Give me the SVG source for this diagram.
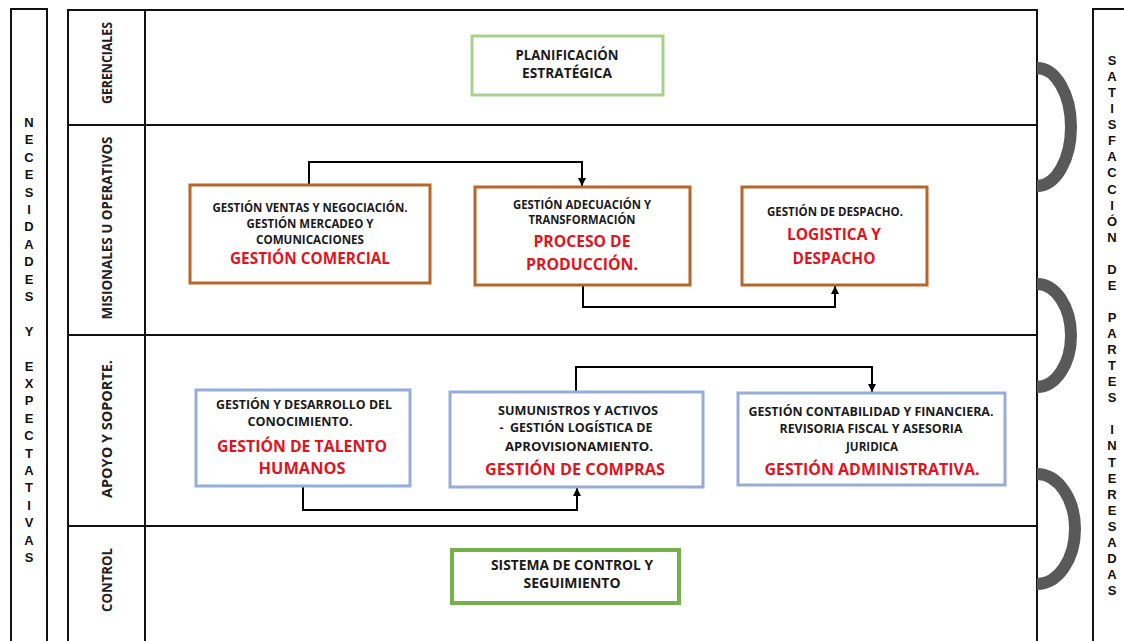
<svg xmlns="http://www.w3.org/2000/svg" width="1124" height="641" viewBox="0 0 1124 641">
<defs>
<marker id="arr" markerWidth="8" markerHeight="8" refX="8" refY="4" orient="auto" markerUnits="userSpaceOnUse">
<path d="M0,0 L8,4 L0,8 z" fill="#000"/>
</marker>
<style>
.frame{fill:none;stroke:#111;stroke-width:2}
.lt{font-family:'Liberation Sans',Arial,sans-serif;font-weight:700;font-size:13px;fill:#111;text-anchor:middle}
.lab{font-family:'Open Sans','Noto Sans',sans-serif;font-weight:700;font-size:14px;fill:#222;text-anchor:middle}
.b{font-family:'Open Sans','Noto Sans',sans-serif;font-weight:700;font-size:12px;fill:#1a1a1a;text-anchor:middle;white-space:pre}
.bl{font-family:'Open Sans','Noto Sans',sans-serif;font-weight:700;font-size:14px;fill:#1a1a1a;text-anchor:middle}
.r{font-family:'Open Sans','Noto Sans',sans-serif;font-weight:700;font-size:16.5px;fill:#E0141E;text-anchor:middle}
.brown{fill:#fff;stroke:#B8652A;stroke-width:3}
.blue{fill:#fff;stroke:#95ADD8;stroke-width:3}
.green1{fill:#fff;stroke:#A9D18E;stroke-width:3}
.green2{fill:#fff;stroke:#74B04C;stroke-width:4}
.conn{fill:none;stroke:#000;stroke-width:2}
.arc{fill:none;stroke:#595959;stroke-width:12}
</style>
</defs>
<rect width="1124" height="641" fill="#fff"/>

<g id="frame">
<rect class="frame" x="11" y="9" width="36" height="645"/>
<rect class="frame" x="68" y="10" width="969" height="645"/>
<line class="frame" x1="145" y1="10" x2="145" y2="641"/>
<line class="frame" x1="68" y1="125" x2="1037" y2="125"/>
<line class="frame" x1="68" y1="335" x2="1037" y2="335"/>
<line class="frame" x1="68" y1="526" x2="1037" y2="526"/>
<rect class="frame" x="1093" y="9" width="50" height="645"/>
</g>

<g id="left-text" class="lt">
<text x="29" y="127">N</text><text x="29" y="144.4">E</text><text x="29" y="161.8">C</text><text x="29" y="179.2">E</text><text x="29" y="196.6">S</text><text x="29" y="214">I</text><text x="29" y="231.4">D</text><text x="29" y="248.8">A</text><text x="29" y="266.2">D</text><text x="29" y="283.6">E</text><text x="29" y="301">S</text>
<text x="29" y="335.8">Y</text>
<text x="29" y="370.6">E</text><text x="29" y="388">X</text><text x="29" y="405.4">P</text><text x="29" y="422.8">E</text><text x="29" y="440.2">C</text><text x="29" y="457.6">T</text><text x="29" y="475">A</text><text x="29" y="492.4">T</text><text x="29" y="509.8">I</text><text x="29" y="527.2">V</text><text x="29" y="544.6">A</text><text x="29" y="562">S</text>
</g>

<g id="right-text" class="lt">
<text x="1112" y="65">S</text><text x="1112" y="81.1">A</text><text x="1112" y="97.1">T</text><text x="1112" y="113.2">I</text><text x="1112" y="129.2">S</text><text x="1112" y="145.3">F</text><text x="1112" y="161.4">A</text><text x="1112" y="177.4">C</text><text x="1112" y="193.5">C</text><text x="1112" y="209.5">I</text><text x="1112" y="225.6">Ó</text><text x="1112" y="241.7">N</text>
<text x="1112" y="273.8">D</text><text x="1112" y="289.8">E</text>
<text x="1112" y="322">P</text><text x="1112" y="338">A</text><text x="1112" y="354.1">R</text><text x="1112" y="370.1">T</text><text x="1112" y="386.2">E</text><text x="1112" y="402.3">S</text>
<text x="1112" y="434.4">I</text><text x="1112" y="450.4">N</text><text x="1112" y="466.5">T</text><text x="1112" y="482.6">E</text><text x="1112" y="498.6">R</text><text x="1112" y="514.7">E</text><text x="1112" y="530.7">S</text><text x="1112" y="546.8">A</text><text x="1112" y="562.9">D</text><text x="1112" y="578.9">A</text><text x="1112" y="595">S</text>
</g>

<g id="row-labels" class="lab">
<text transform="translate(111.5,63) rotate(-90)" textLength="82" lengthAdjust="spacingAndGlyphs">GERENCIALES</text>
<text transform="translate(111.5,228) rotate(-90)" textLength="183" lengthAdjust="spacingAndGlyphs">MISIONALES U OPERATIVOS</text>
<text transform="translate(111.5,429) rotate(-90)" textLength="138" lengthAdjust="spacingAndGlyphs">APOYO Y SOPORTE.</text>
<text transform="translate(111.5,580) rotate(-90)" textLength="64" lengthAdjust="spacingAndGlyphs">CONTROL</text>
</g>

<g id="arcs">
<path class="arc" d="M1037,68 A34,59 0 0 1 1037,186"/>
<path class="arc" d="M1037,284 A34,51.5 0 0 1 1037,387"/>
<path class="arc" d="M1037,474 A38,55 0 0 1 1037,584"/>
</g>

<g id="connectors">
<polyline class="conn" points="309,184 309,162 582,162 582,186" marker-end="url(#arr)"/>
<polyline class="conn" points="583,286 583,307 835,307 835,286" marker-end="url(#arr)"/>
<polyline class="conn" points="303,487 303,510 577,510 577,488" marker-end="url(#arr)"/>
<polyline class="conn" points="576,391 576,367 872,367 872,392" marker-end="url(#arr)"/>
</g>

<g id="planificacion">
<rect class="green1" x="472" y="36" width="191" height="59"/>
<text class="bl" x="567" y="60" textLength="103" lengthAdjust="spacingAndGlyphs">PLANIFICACIÓN</text>
<text class="bl" x="567" y="78" textLength="90" lengthAdjust="spacingAndGlyphs">ESTRATÉGICA</text>
</g>

<g id="comercial">
<rect class="brown" x="190" y="185" width="240" height="98"/>
<text class="b" x="310" y="212" textLength="195" lengthAdjust="spacingAndGlyphs">GESTIÓN VENTAS Y NEGOCIACIÓN.</text>
<text class="b" x="310" y="228" textLength="127" lengthAdjust="spacingAndGlyphs">GESTIÓN MERCADEO Y</text>
<text class="b" x="310" y="244" textLength="108" lengthAdjust="spacingAndGlyphs">COMUNICACIONES</text>
<text class="r" x="310" y="264" textLength="160" lengthAdjust="spacingAndGlyphs">GESTIÓN COMERCIAL</text>
</g>

<g id="produccion">
<rect class="brown" x="475" y="187" width="215" height="98"/>
<text class="b" x="582" y="209" textLength="138" lengthAdjust="spacingAndGlyphs">GESTIÓN ADECUACIÓN Y</text>
<text class="b" x="582" y="224" textLength="107" lengthAdjust="spacingAndGlyphs">TRANSFORMACIÓN</text>
<text class="r" x="582" y="247" textLength="97" lengthAdjust="spacingAndGlyphs">PROCESO DE</text>
<text class="r" x="582" y="270" textLength="112" lengthAdjust="spacingAndGlyphs">PRODUCCIÓN.</text>
</g>

<g id="logistica">
<rect class="brown" x="742" y="187" width="185" height="98"/>
<text class="b" x="835" y="216" textLength="136" lengthAdjust="spacingAndGlyphs">GESTIÓN DE DESPACHO.</text>
<text class="r" x="834" y="240" textLength="94" lengthAdjust="spacingAndGlyphs">LOGISTICA Y</text>
<text class="r" x="834" y="264" textLength="83" lengthAdjust="spacingAndGlyphs">DESPACHO</text>
</g>

<g id="talento">
<rect class="blue" x="196" y="390" width="214" height="96"/>
<text class="b" x="304" y="409" textLength="176" lengthAdjust="spacingAndGlyphs">GESTIÓN Y DESARROLLO DEL</text>
<text class="b" x="300" y="426" textLength="105" lengthAdjust="spacingAndGlyphs">CONOCIMIENTO.</text>
<text class="r" x="302" y="452" textLength="170" lengthAdjust="spacingAndGlyphs">GESTIÓN DE TALENTO</text>
<text class="r" x="302" y="474" textLength="87" lengthAdjust="spacingAndGlyphs">HUMANOS</text>
</g>

<g id="compras">
<rect class="blue" x="450" y="392" width="253" height="95"/>
<text class="b" x="578" y="415" textLength="160" lengthAdjust="spacingAndGlyphs">SUMUNISTROS Y ACTIVOS</text>
<text class="b" x="576" y="432" textLength="153" lengthAdjust="spacingAndGlyphs">-  GESTIÓN LOGÍSTICA DE</text>
<text class="b" x="579" y="451" textLength="148" lengthAdjust="spacingAndGlyphs">APROVISIONAMIENTO.</text>
<text class="r" x="575" y="475" textLength="180" lengthAdjust="spacingAndGlyphs">GESTIÓN DE COMPRAS</text>
</g>

<g id="administrativa">
<rect class="blue" x="738" y="393" width="267" height="92"/>
<text class="b" x="871" y="416" textLength="245" lengthAdjust="spacingAndGlyphs">GESTIÓN CONTABILIDAD Y FINANCIERA.</text>
<text class="b" x="871" y="433" textLength="183" lengthAdjust="spacingAndGlyphs">REVISORIA FISCAL Y ASESORIA</text>
<text class="b" x="872" y="451" textLength="52" lengthAdjust="spacingAndGlyphs">JURIDICA</text>
<text class="r" x="872" y="475" textLength="215" lengthAdjust="spacingAndGlyphs">GESTIÓN ADMINISTRATIVA.</text>
</g>

<g id="sistema">
<rect class="green2" x="452" y="550" width="227" height="53"/>
<text class="bl" x="572" y="570" textLength="162" lengthAdjust="spacingAndGlyphs">SISTEMA DE CONTROL Y</text>
<text class="bl" x="572" y="588" textLength="97" lengthAdjust="spacingAndGlyphs">SEGUIMIENTO</text>
</g>
</svg>
